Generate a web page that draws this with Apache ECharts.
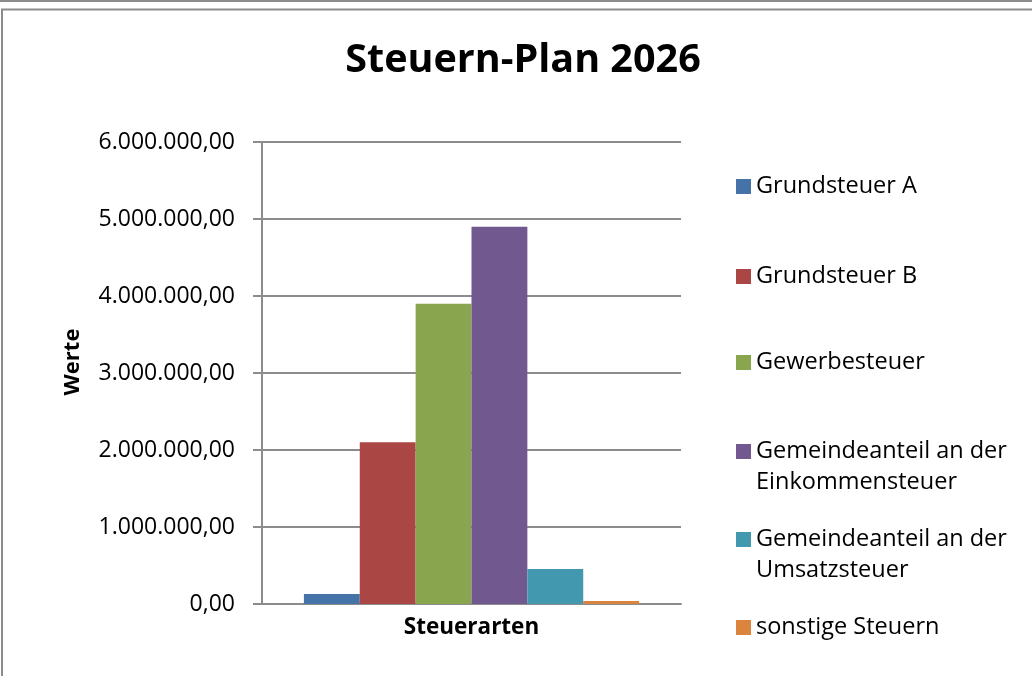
<!DOCTYPE html>
<html>
<head>
<meta charset="utf-8">
<script src="https://cdn.jsdelivr.net/npm/echarts@6/dist/echarts.min.js"></script>
<style>
html,body{margin:0;padding:0;background:#fff;}
#chart{width:1032px;height:676px;}
</style>
</head>
<body>
<div id="chart"></div>
<script>
const categories = [''];
const seriesNames = ['Grundsteuer A','Grundsteuer B','Gewerbesteuer','Gemeindeanteil an der Einkommensteuer','Gemeindeanteil an der Umsatzsteuer','sonstige Steuern'];
const legendLabels = ['Grundsteuer A','Grundsteuer B','Gewerbesteuer',' \nGemeindeanteil an der\nEinkommensteuer',' \nGemeindeanteil an der\nUmsatzsteuer','sonstige Steuern'];
const seriesValues = [130000, 2100000, 3900000, 4900000, 455000, 40000];
const colors = ['#4572A7','#AA4643','#89A54E','#71588F','#4198AF','#DB843D'];
const yTicks = {min: 0, max: 6000000, interval: 1000000};

const FONT = '"Open Sans", sans-serif';
const chart = echarts.init(document.getElementById('chart'));

function fmt(v){
  const s = Math.round(v).toString().replace(/\B(?=(\d{3})+(?!\d))/g, '.');
  return s + ',00';
}

const legendTops = [171, 261, 347, 405, 493, 612];
const legends = seriesNames.map((n, i) => ({
  data: [n],
  left: 736,
  top: legendTops[i],
  padding: 0,
  itemWidth: 15,
  itemHeight: 15,
  icon: 'rect',
  selectedMode: false,
  formatter: () => legendLabels[i],
  textStyle: {fontFamily: FONT, fontSize: 23.5, color: '#000', lineHeight: 31}
}));

chart.setOption({
  backgroundColor: '#fff',
  animation: false,
  color: colors,
  title: {
    text: 'Steuern-Plan 2026',
    left: 518, top: 36, textAlign: 'center',
    textStyle: {fontFamily: FONT, fontSize: 39.5, fontWeight: 'bold', color: '#000'}
  },
  graphic: [
    {type: 'rect', shape: {x: 0, y: 0, width: 1032, height: 2}, style: {fill: '#8c8c8c'}, silent: true},
    {type: 'rect', shape: {x: 2, y: 9.5, width: 1040, height: 700}, style: {fill: 'none', stroke: '#8c8c8c', lineWidth: 2}, silent: true}
  ],
  legend: legends,
  grid: {left: 262, right: 351, top: 142, bottom: 72},
  xAxis: {
    type: 'category',
    data: categories,
    name: 'Steuerarten',
    nameLocation: 'middle',
    nameGap: 12,
    nameTextStyle: {fontFamily: FONT, fontSize: 22.5, fontWeight: 'bold', color: '#000'},
    axisLine: {lineStyle: {color: '#8c8c8c', width: 2}},
    axisTick: {show: false},
    axisLabel: {show: false}
  },
  yAxis: {
    type: 'value',
    min: yTicks.min, max: yTicks.max, interval: yTicks.interval,
    name: 'Werte',
    nameLocation: 'middle',
    nameRotate: 90,
    nameGap: 178,
    nameTextStyle: {fontFamily: FONT, fontSize: 22, fontWeight: 'bold', color: '#000', padding: [0, 0, 0, 22]},
    axisLine: {show: true, lineStyle: {color: '#8c8c8c', width: 2}},
    axisTick: {show: true, inside: false, length: 9, lineStyle: {color: '#8c8c8c', width: 2}},
    axisLabel: {formatter: fmt, margin: 27, fontFamily: FONT, fontSize: 23, color: '#000'},
    splitLine: {lineStyle: {color: '#8c8c8c', width: 2}}
  },
  series: seriesNames.map((n, i) => ({
    name: n,
    type: 'bar',
    data: [seriesValues[i]],
    barGap: '0%',
    barCategoryGap: '20%',
    itemStyle: {color: colors[i]}
  }))
});
</script>
</body>
</html>
